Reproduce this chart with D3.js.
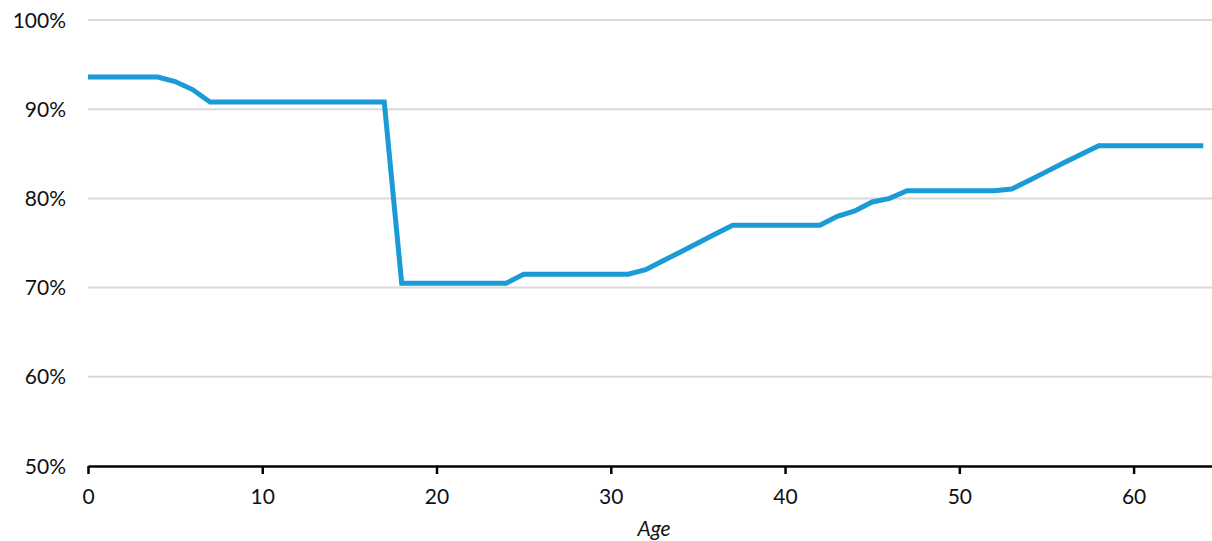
<!DOCTYPE html>
<html>
<head>
<meta charset="utf-8">
<script src="https://cdn.jsdelivr.net/npm/d3@7"></script>
<style>
  html, body { margin: 0; padding: 0; background: #fff; }
  svg { display: block; font-family: Lato, "Open Sans", sans-serif; }
</style>
</head>
<body>
<svg id="chart" width="1212" height="541"></svg>
<script>
const ages = [0,1,2,3,4,5,6,7,8,9,10,11,12,13,14,15,16,17,18,19,20,21,22,23,24,25,26,27,28,29,30,31,32,33,34,35,36,37,38,39,40,41,42,43,44,45,46,47,48,49,50,51,52,53,54,55,56,57,58,59,60,61,62,63,64];
const values = [93.6,93.6,93.6,93.6,93.6,93.1,92.2,90.8,90.8,90.8,90.8,90.8,90.8,90.8,90.8,90.8,90.8,90.8,70.5,70.5,70.5,70.5,70.5,70.5,70.5,71.5,71.5,71.5,71.5,71.5,71.5,71.5,72.0,73.0,74.0,75.0,76.0,77.0,77.0,77.0,77.0,77.0,77.0,78.0,78.6,79.6,80.0,80.85,80.85,80.85,80.85,80.85,80.85,81.05,82.0,83.0,84.0,84.95,85.9,85.9,85.9,85.9,85.9,85.9,85.9];
const xTicks = [0,10,20,30,40,50,60];
const yTicks = [50,60,70,80,90,100];
const xLabel = "Age";

const svg = d3.select("#chart");
const x = d3.scaleLinear().domain([0, 64.5]).range([88, 1212]);
const y = d3.scaleLinear().domain([50, 100]).range([466, 20]);

// gridlines
svg.append("g")
  .selectAll("line")
  .data(yTicks.filter(d => d > 50))
  .join("line")
  .attr("x1", x(0)).attr("x2", 1212)
  .attr("y1", d => y(d)).attr("y2", d => y(d))
  .attr("stroke", "#d9d9d9").attr("stroke-width", 2);

// y labels
svg.append("g")
  .selectAll("text")
  .data(yTicks)
  .join("text")
  .attr("x", 66).attr("y", d => y(d))
  .attr("dy", "0.36em")
  .attr("text-anchor", "end")
  .attr("font-size", 21)
  .attr("fill", "#111")
  .text(d => d + "%");

// x axis
const xAxis = d3.axisBottom(x).tickValues(xTicks).tickSize(8).tickSizeOuter(0).tickPadding(15);
const gx = svg.append("g").attr("transform", `translate(0,${y(50)})`).call(xAxis);
gx.select(".domain").attr("stroke", "#000").attr("stroke-width", 2.5);
gx.selectAll(".tick line").attr("stroke", "#000").attr("stroke-width", 2.5);
gx.selectAll(".tick text").attr("font-size", 21).attr("fill", "#111")
  .attr("font-family", "Lato, sans-serif");

svg.append("text")
  .attr("x", 654).attr("y", 536)
  .attr("text-anchor", "middle")
  .attr("font-size", 21)
  .attr("font-style", "italic")
  .attr("fill", "#111")
  .text(xLabel);

// line
const line = d3.line().x((d, i) => x(ages[i])).y(d => y(d));
svg.append("path")
  .datum(values)
  .attr("fill", "none")
  .attr("stroke", "#1a9ad6")
  .attr("stroke-width", 5)
  .attr("stroke-linejoin", "miter")
  .attr("d", line);
</script>
</body>
</html>
